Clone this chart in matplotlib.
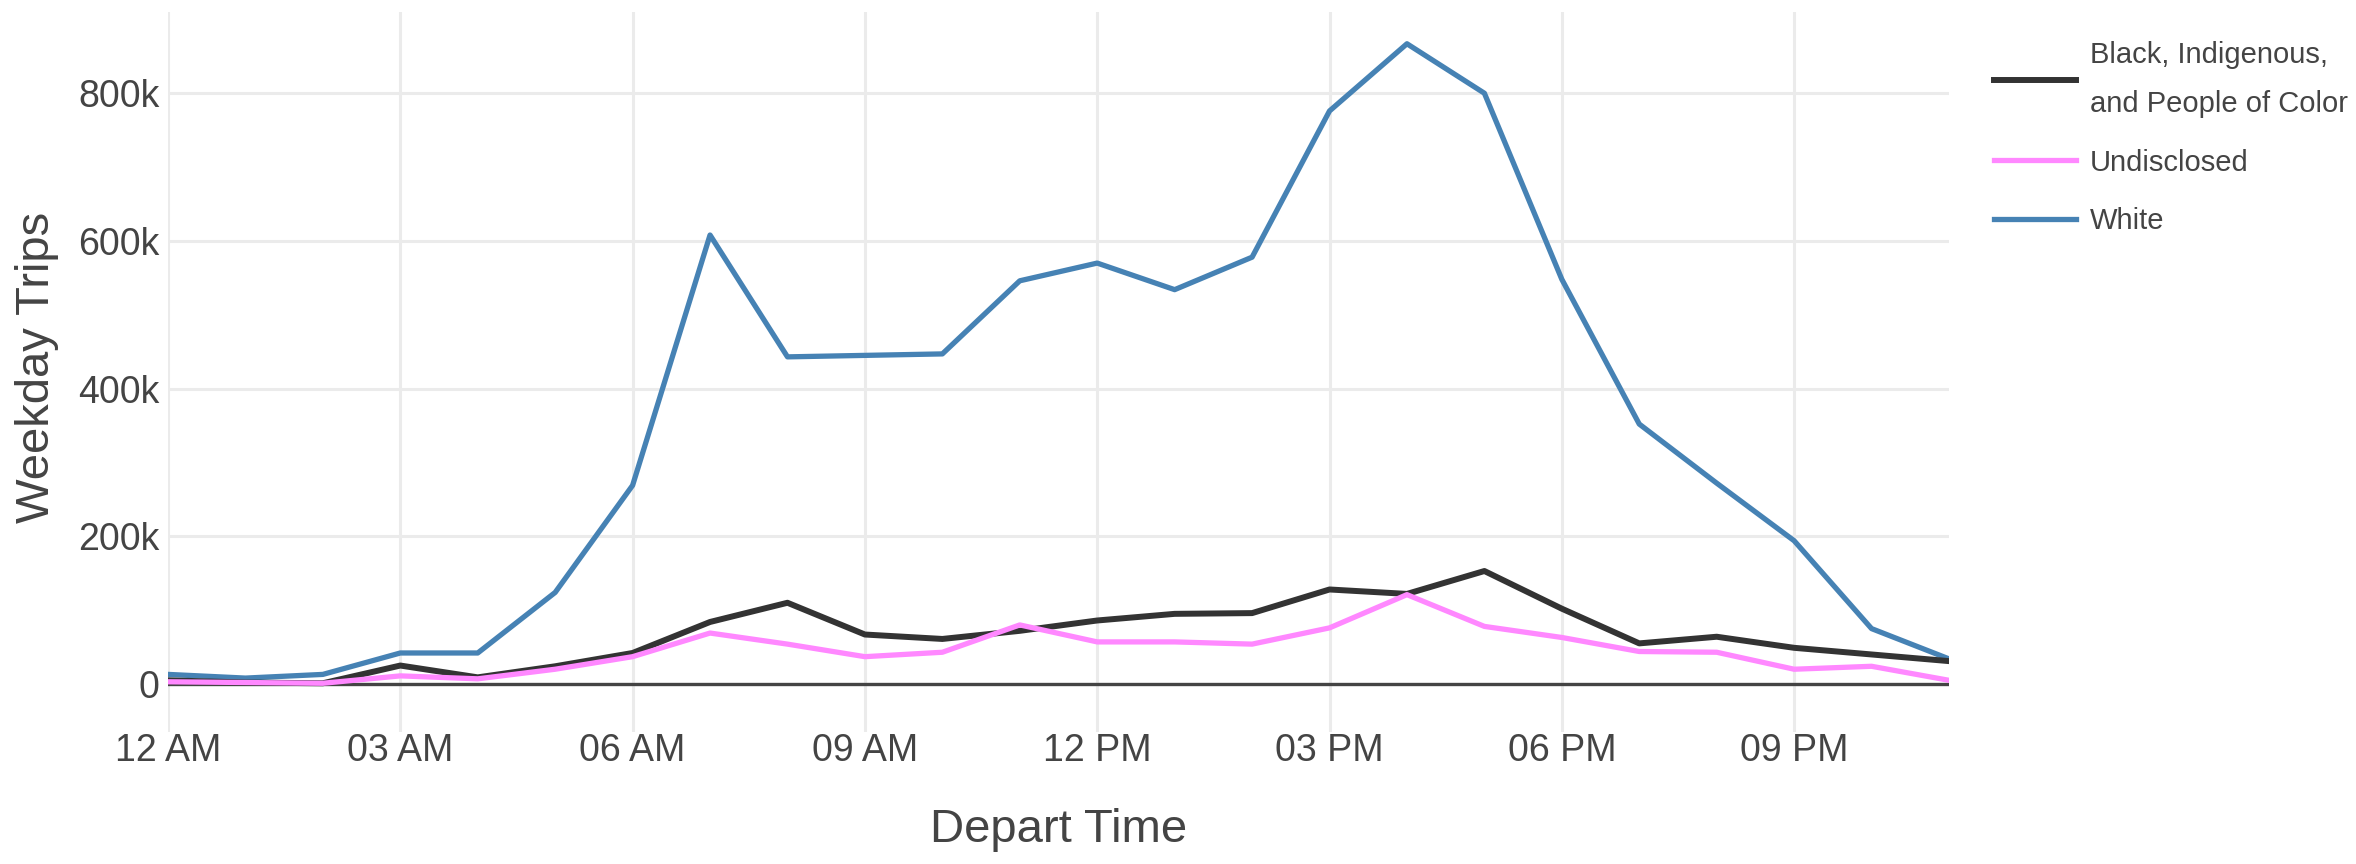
import matplotlib
matplotlib.use("Agg")
import matplotlib.pyplot as plt
from matplotlib.ticker import FuncFormatter

plt.rcParams["font.family"] = ["Liberation Sans", "DejaVu Sans"]

hours = list(range(24))
hour_labels = ["12 AM", "03 AM", "06 AM", "09 AM", "12 PM", "03 PM", "06 PM", "09 PM"]

white = [13000, 8000, 13000, 42000, 42000, 124000, 269000, 608000, 443000, 445000, 447000, 546000,
         570000, 534000, 578000, 776000, 867000, 800000, 548000, 352000, 272000, 194000, 75000, 34000]
bipoc = [5000, 2000, 1000, 25000, 9000, 24000, 42000, 84000, 110000, 67000, 61000, 72000,
         86000, 95000, 96000, 128000, 122000, 153000, 102000, 55000, 64000, 49000, 40000, 31000]
undisclosed = [3000, 2000, 1000, 11000, 7000, 20000, 37000, 69000, 54000, 37000, 43000, 80000,
               57000, 57000, 54000, 76000, 121000, 78000, 63000, 44000, 43000, 20000, 24000, 5000]

text_color = "#444444"

fig = plt.figure(figsize=(23.56, 8.64), dpi=100)
ax = fig.add_axes([168 / 2356, 1 - 732 / 864, (1949 - 168) / 2356, (732 - 12) / 864])

ax.axhline(0, color="#444444", lw=2.4, zorder=1)
ax.plot(hours, bipoc, color="#333333", lw=4.3, label="Black, Indigenous,\nand People of Color", zorder=3)
ax.plot(hours, undisclosed, color="#FF88FF", lw=3.8, label="Undisclosed", zorder=3)
ax.plot(hours, white, color="#4682B4", lw=3.8, label="White", zorder=2)

ax.set_xlim(0, 23)
ax.set_ylim(-65000, 910000)
ax.set_xticks(range(0, 24, 3))
ax.set_xticklabels(hour_labels)
ax.set_yticks([0, 200000, 400000, 600000, 800000])
ax.yaxis.set_major_formatter(FuncFormatter(lambda v, p: "0" if v == 0 else f"{int(v / 1000)}k"))

ax.grid(True, color="#EBEBEB", lw=2.2)
ax.set_axisbelow(True)
for s in ax.spines.values():
    s.set_visible(False)
ax.tick_params(length=0, labelsize=27, labelcolor=text_color)
ax.tick_params(axis="y", pad=6)
ax.tick_params(axis="x", pad=1)

ax.set_xlabel("Depart Time", fontsize=34, color=text_color)
ax.xaxis.set_label_coords(0.5, -0.106)
ax.set_ylabel("Weekday Trips", fontsize=34, color=text_color)
ax.yaxis.set_label_coords(-0.061, 0.507)

leg = fig.legend(loc="upper left", bbox_to_anchor=(1994 / 2356, 1 - 41 / 864), frameon=False,
                 fontsize=21, labelcolor=text_color, handlelength=2.8, handletextpad=0.5,
                 labelspacing=1.05, borderpad=0, borderaxespad=0)
for t in leg.get_texts():
    t.set_linespacing(1.95)

fig.savefig("out.png", dpi=100)
